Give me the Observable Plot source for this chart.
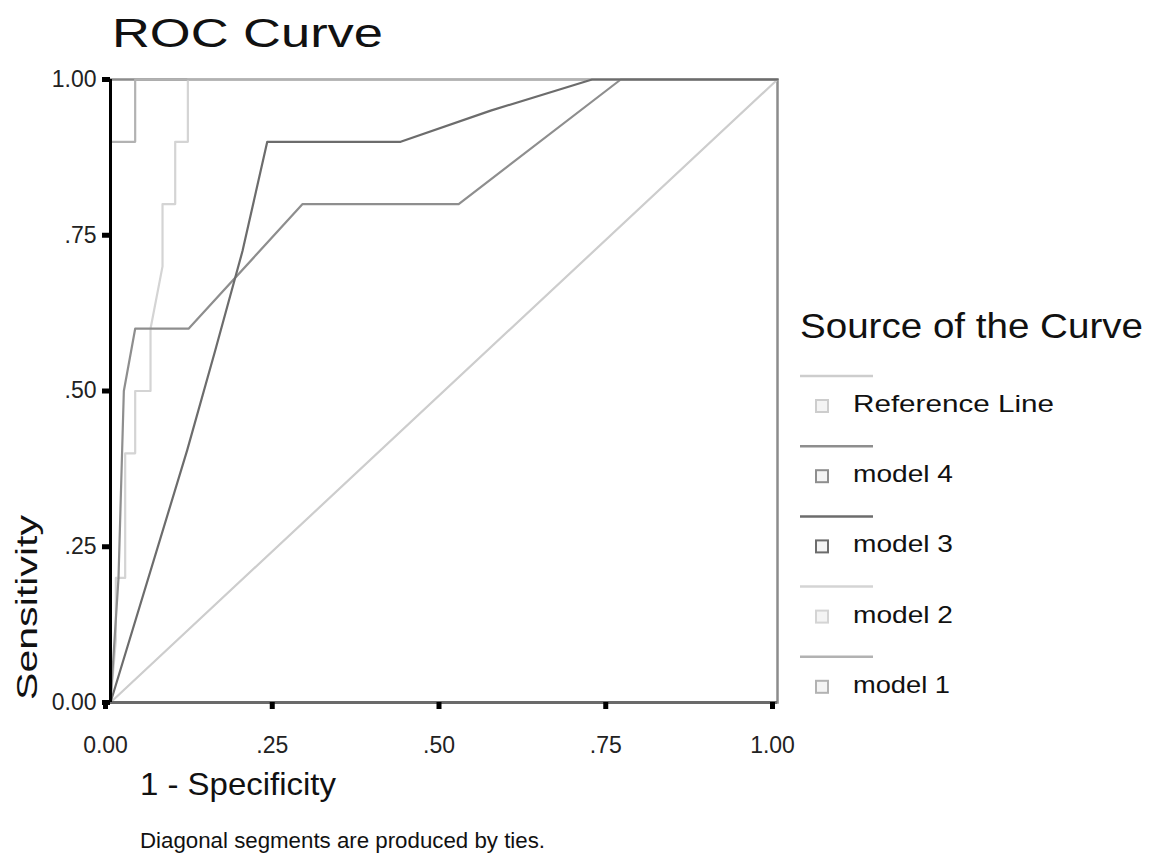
<!DOCTYPE html>
<html>
<head>
<meta charset="utf-8">
<script src="https://cdn.jsdelivr.net/npm/d3@7"></script>
<script src="https://cdn.jsdelivr.net/npm/@observablehq/plot@0.6"></script>
<style>
  html, body { margin: 0; padding: 0; background: #fff; }
  #chart { position: relative; width: 1150px; height: 860px; background: #fff; font-family: "Liberation Sans", Arial, sans-serif; }
  #chart svg { position: absolute; left: 0; top: 0; }
</style>
</head>
<body>
<div id="chart"></div>
<script>
// ---- data ----
const seriesNames = ["Reference Line", "model 4", "model 3", "model 2", "model 1"];
const axisTicks = [0, 0.25, 0.5, 0.75, 1];
const tickLabels = ["0.00", ".25", ".50", ".75", "1.00"];

const refFpr = [0, 1];
const refTpr = [0, 1];
const m4Fpr = [0, 0.012, 0.02, 0.037, 0.117, 0.288, 0.522, 0.765, 1];
const m4Tpr = [0, 0.2, 0.5, 0.6, 0.6, 0.8, 0.8, 1, 1];
const m3Fpr = [0, 0.115, 0.157, 0.198, 0.235, 0.435, 0.57, 0.722, 1];
const m3Tpr = [0, 0.405, 0.565, 0.725, 0.9, 0.9, 0.95, 1, 1];
const m2Fpr = [0, 0.008, 0.008, 0.022, 0.022, 0.037, 0.037, 0.06, 0.06, 0.078, 0.078, 0.097, 0.097, 0.116, 0.116, 1];
const m2Tpr = [0, 0.1, 0.2, 0.2, 0.4, 0.4, 0.5, 0.5, 0.6, 0.7, 0.8, 0.8, 0.9, 0.9, 1, 1];
const m1Fpr = [0, 0, 0.037, 0.037, 1];
const m1Tpr = [0, 0.9, 0.9, 1, 1];

// ---- styles ----
const seriesColors = ["#cdcdcd", "#8e8e8e", "#6c6c6c", "#d4d4d4", "#b2b2b2"];
const drawOrder = ["Reference Line", "model 2", "model 1", "model 4", "model 3"];

const curves = {
  "Reference Line": [refFpr, refTpr],
  "model 4": [m4Fpr, m4Tpr],
  "model 3": [m3Fpr, m3Tpr],
  "model 2": [m2Fpr, m2Tpr],
  "model 1": [m1Fpr, m1Tpr]
};
const rows = [];
for (const s of drawOrder) {
  const [xs, ys] = curves[s];
  xs.forEach((v, i) => rows.push({series: s, fpr: v, tpr: ys[i]}));
}
const fmt = d => tickLabels[axisTicks.indexOf(d)];

const plot = Plot.plot({
  width: 800,
  height: 760,
  marginLeft: 110,
  marginRight: 23,
  marginTop: 79,
  marginBottom: 58,
  style: {fontFamily: '"Liberation Sans", Arial, sans-serif', fontSize: "23px", color: "#222", background: "transparent"},
  x: {domain: [0, 1]},
  y: {domain: [0, 1]},
  color: {domain: seriesNames, range: seriesColors},
  marks: [
    Plot.frame({stroke: "#8c8c8c", strokeWidth: 2.5}),
    Plot.line(rows, {x: "fpr", y: "tpr", z: "series", stroke: "series", strokeWidth: 2.2, curve: "linear"}),
    Plot.ruleY([0], {stroke: "#6a6a6a", strokeWidth: 3}),
    Plot.ruleX([0], {stroke: "#000", strokeWidth: 3}),
    Plot.axisY({ticks: axisTicks, tickFormat: fmt, tickSize: 8, tickPadding: 6, strokeWidth: 5, stroke: "#000", fill: "#222", label: null}),
    Plot.axisX({ticks: axisTicks, tickFormat: fmt, tickSize: 7, tickPadding: 27, strokeWidth: 5, stroke: "#000", fill: "#222", label: null, dx: -5})
  ]
});
const chart = document.getElementById("chart");
chart.appendChild(plot);

// ---- text overlay and legend ----
const ns = "http://www.w3.org/2000/svg";
const ov = d3.select(chart).append("svg")
  .attr("xmlns", ns).attr("width", 1150).attr("height", 860)
  .style("font-family", '"Liberation Sans", Arial, sans-serif');

function txt(x, y, s, size, len, extra) {
  const t = ov.append("text").attr("x", x).attr("y", y).attr("font-size", size)
    .attr("fill", "#111").text(s);
  if (len) t.attr("textLength", len).attr("lengthAdjust", "spacingAndGlyphs");
  if (extra) extra(t);
  return t;
}
txt(112, 47, "ROC Curve", 40, 271);
txt(0, 0, "Sensitivity", 30, 185, t => t.attr("transform", "translate(37,700) rotate(-90)"));
txt(140, 795, "1 - Specificity", 32, 196);
txt(140, 848, "Diagonal segments are produced by ties.", 22, 405);

txt(800, 338, "Source of the Curve", 35, 343);
const labelLens = [201, 100, 100, 100, 97];
seriesNames.forEach((s, i) => {
  const ly = 376 + i * 70.2;
  ov.append("line").attr("x1", 800).attr("x2", 873).attr("y1", ly).attr("y2", ly)
    .attr("stroke", seriesColors[i]).attr("stroke-width", 2.5);
  ov.append("rect").attr("x", 816).attr("y", ly + 24).attr("width", 12).attr("height", 12)
    .attr("fill", "#f4f4f4").attr("stroke", seriesColors[i]).attr("stroke-width", 2);
  txt(853, ly + 36, s, 24, labelLens[i]);
});
</script>
</body>
</html>
